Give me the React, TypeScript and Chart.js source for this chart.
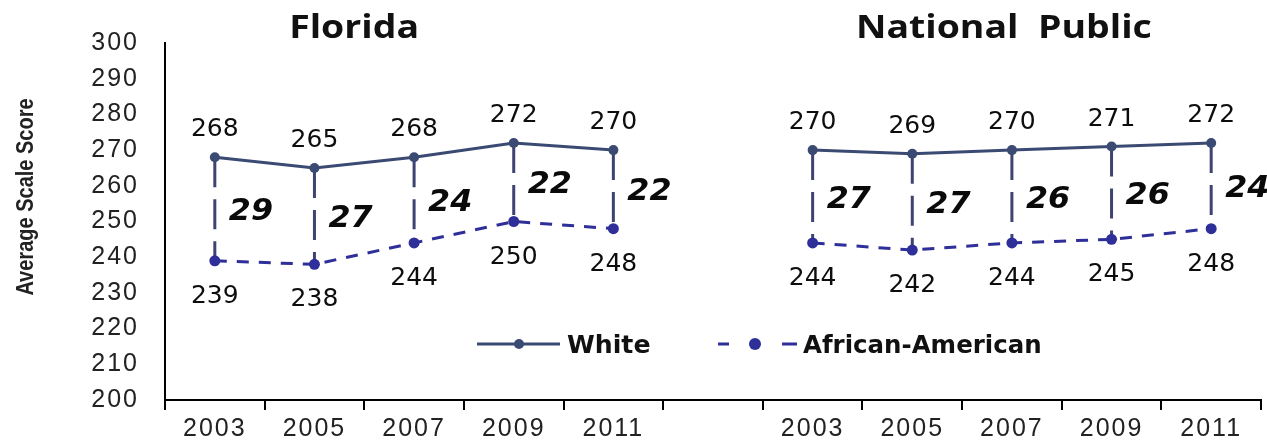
import { useEffect, useRef } from "react";
import { Chart, registerables } from "chart.js";

Chart.register(...registerables);

// ---- data ----
const categories = ["2003", "2005", "2007", "2009", "2011", "", "2003", "2005", "2007", "2009", "2011"];
const whiteScores: (number | null)[] = [268, 265, 268, 272, 270, null, 270, 269, 270, 271, 272];
const africanAmericanScores: (number | null)[] = [239, 238, 244, 250, 248, null, 244, 242, 244, 245, 248];
const gapLabels: (string | null)[] = ["29", "27", "24", "22", "22", null, "27", "27", "26", "26", "24"];
const panelTitles = ["Florida", "National  Public"];
const seriesNames = ["White", "African-American"];
const yMin = 200;
const yMax = 300;
const yStep = 10;
const yTitle = "Average Scale Score";

const WHITE_COLOR = "#3b4a72";
const AA_COLOR = "#2f2f9a";
const CONNECTOR_COLOR = "#3e4372";
const STRETCH = 1.17;

function setSpacing(ctx: any, v: string) {
  try {
    ctx.letterSpacing = v;
  } catch (e) {
    /* ignore */
  }
}

function stretchedText(ctx: any, text: string, x: number, y: number, sx: number) {
  ctx.save();
  ctx.translate(x, y);
  ctx.scale(sx, 1);
  ctx.fillText(text, 0, 0);
  ctx.restore();
}

const overlayPlugin = {
  id: "overlay",
  beforeDraw(chart: any) {
    setSpacing(chart.ctx, "2px");
  },
  beforeDatasetsDraw(chart: any) {
    const { ctx, scales } = chart;
    setSpacing(ctx, "0px");
    const x = scales.x;
    const y = scales.y;
    ctx.save();
    ctx.strokeStyle = CONNECTOR_COLOR;
    ctx.lineWidth = 3;
    ctx.setLineDash([30, 12]);
    for (let i = 0; i < categories.length; i++) {
      const w = whiteScores[i];
      const a = africanAmericanScores[i];
      if (w == null || a == null) continue;
      const px = x.getPixelForValue(i);
      ctx.beginPath();
      ctx.moveTo(px, y.getPixelForValue(w));
      ctx.lineTo(px, y.getPixelForValue(a));
      ctx.stroke();
    }
    ctx.restore();
  },
  afterDraw(chart: any) {
    const { ctx, scales, chartArea } = chart;
    const x = scales.x;
    const y = scales.y;
    ctx.save();
    ctx.setLineDash([]);
    setSpacing(ctx, "0px");
    // value labels
    ctx.fillStyle = "#0d0d0d";
    ctx.textAlign = "center";
    ctx.textBaseline = "alphabetic";
    ctx.font = "25px 'DejaVu Sans'";
    for (let i = 0; i < categories.length; i++) {
      const w = whiteScores[i];
      const a = africanAmericanScores[i];
      const px = x.getPixelForValue(i);
      if (w != null) ctx.fillText(String(w), px, y.getPixelForValue(w) - 21);
      if (a != null) ctx.fillText(String(a), px, y.getPixelForValue(a) + 42);
    }
    // gap labels
    ctx.fillStyle = "#0a0a0a";
    ctx.textAlign = "left";
    ctx.font = "italic bold 30px 'DejaVu Sans'";
    for (let i = 0; i < categories.length; i++) {
      const g = gapLabels[i];
      const w = whiteScores[i];
      const a = africanAmericanScores[i];
      if (g == null || w == null || a == null) continue;
      const px = x.getPixelForValue(i);
      const mid = (y.getPixelForValue(w) + y.getPixelForValue(a)) / 2;
      stretchedText(ctx, g, px + 14, mid + 11, 1.06);
    }
    // panel titles
    ctx.fillStyle = "#111";
    ctx.textAlign = "center";
    ctx.font = "bold 32px 'Open Sans'";
    stretchedText(ctx, panelTitles[0], x.getPixelForValue(2) - 60, chartArea.top - 5, STRETCH);
    stretchedText(ctx, panelTitles[1], x.getPixelForValue(8) - 8, chartArea.top - 5, STRETCH);
    // y title
    ctx.save();
    ctx.translate(27, 197);
    ctx.rotate(-Math.PI / 2);
    ctx.scale(1, STRETCH);
    ctx.font = "bold 20px 'Liberation Sans'";
    ctx.fillStyle = "#222";
    ctx.textAlign = "center";
    ctx.textBaseline = "middle";
    ctx.fillText(yTitle, 0, 0);
    ctx.restore();
    // legend
    const ly = chartArea.bottom - 56;
    const lx = chartArea.left;
    ctx.lineWidth = 3;
    ctx.strokeStyle = WHITE_COLOR;
    ctx.beginPath();
    ctx.moveTo(lx + 312, ly);
    ctx.lineTo(lx + 395, ly);
    ctx.stroke();
    ctx.fillStyle = WHITE_COLOR;
    ctx.beginPath();
    ctx.arc(lx + 354, ly, 5, 0, Math.PI * 2);
    ctx.fill();
    ctx.strokeStyle = AA_COLOR;
    ctx.beginPath();
    ctx.moveTo(lx + 553, ly);
    ctx.lineTo(lx + 564, ly);
    ctx.moveTo(lx + 617, ly);
    ctx.lineTo(lx + 632, ly);
    ctx.stroke();
    ctx.fillStyle = AA_COLOR;
    ctx.beginPath();
    ctx.arc(lx + 590, ly, 6, 0, Math.PI * 2);
    ctx.fill();
    ctx.fillStyle = "#111";
    ctx.textAlign = "left";
    ctx.textBaseline = "alphabetic";
    ctx.font = "bold 24px 'DejaVu Sans'";
    stretchedText(ctx, seriesNames[0], lx + 402, ly + 9, 1.05);
    stretchedText(ctx, seriesNames[1], lx + 638, ly + 9, 1.02);
    ctx.restore();
  },
};

export default function App() {
  const canvasRef = useRef<HTMLCanvasElement | null>(null);

  useEffect(() => {
    if (!canvasRef.current) return;
    const chart = new Chart(canvasRef.current, {
      type: "line",
      data: {
        labels: categories,
        datasets: [
          {
            label: seriesNames[0],
            data: whiteScores,
            borderColor: WHITE_COLOR,
            backgroundColor: WHITE_COLOR,
            borderWidth: 3,
            pointRadius: 5,
            pointBorderWidth: 0,
            pointBackgroundColor: WHITE_COLOR,
            spanGaps: false,
            tension: 0,
          },
          {
            label: seriesNames[1],
            data: africanAmericanScores,
            borderColor: AA_COLOR,
            backgroundColor: AA_COLOR,
            borderWidth: 3,
            borderDash: [12, 10],
            pointRadius: 5.5,
            pointBorderWidth: 0,
            pointBackgroundColor: AA_COLOR,
            spanGaps: false,
            tension: 0,
          },
        ],
      },
      options: {
        animation: false,
        responsive: true,
        maintainAspectRatio: false,
        layout: { padding: { top: 43, right: 6, left: 0, bottom: 0 } },
        plugins: {
          legend: { display: false },
          tooltip: { enabled: false },
          title: { display: false },
        },
        scales: {
          x: {
            type: "category",
            offset: true,
            afterFit: (s: any) => {
              s.height = 43;
            },
            grid: {
              offset: true,
              drawOnChartArea: false,
              drawTicks: true,
              tickLength: 10,
              color: "#000",
              lineWidth: 2,
            },
            border: { display: true, color: "#000", width: 2 },
            ticks: {
              color: "#222",
              font: { family: "'Liberation Sans'", size: 25 },
              padding: 4,
              maxRotation: 0,
              autoSkip: false,
            },
          },
          y: {
            min: yMin,
            max: yMax,
            afterFit: (s: any) => {
              s.width = 165;
            },
            grid: { display: true, drawOnChartArea: false, drawTicks: false },
            border: { display: true, color: "#000", width: 2 },
            ticks: {
              stepSize: yStep,
              color: "#222",
              padding: 26,
              font: { family: "'Liberation Sans'", size: 25 },
            },
          },
        },
      },
      plugins: [overlayPlugin],
    });
    return () => chart.destroy();
  }, []);

  return (
    <div style={{ position: "fixed", left: 0, top: 0, width: 1267, height: 443, background: "#fff" }}>
      <canvas ref={canvasRef} />
    </div>
  );
}
